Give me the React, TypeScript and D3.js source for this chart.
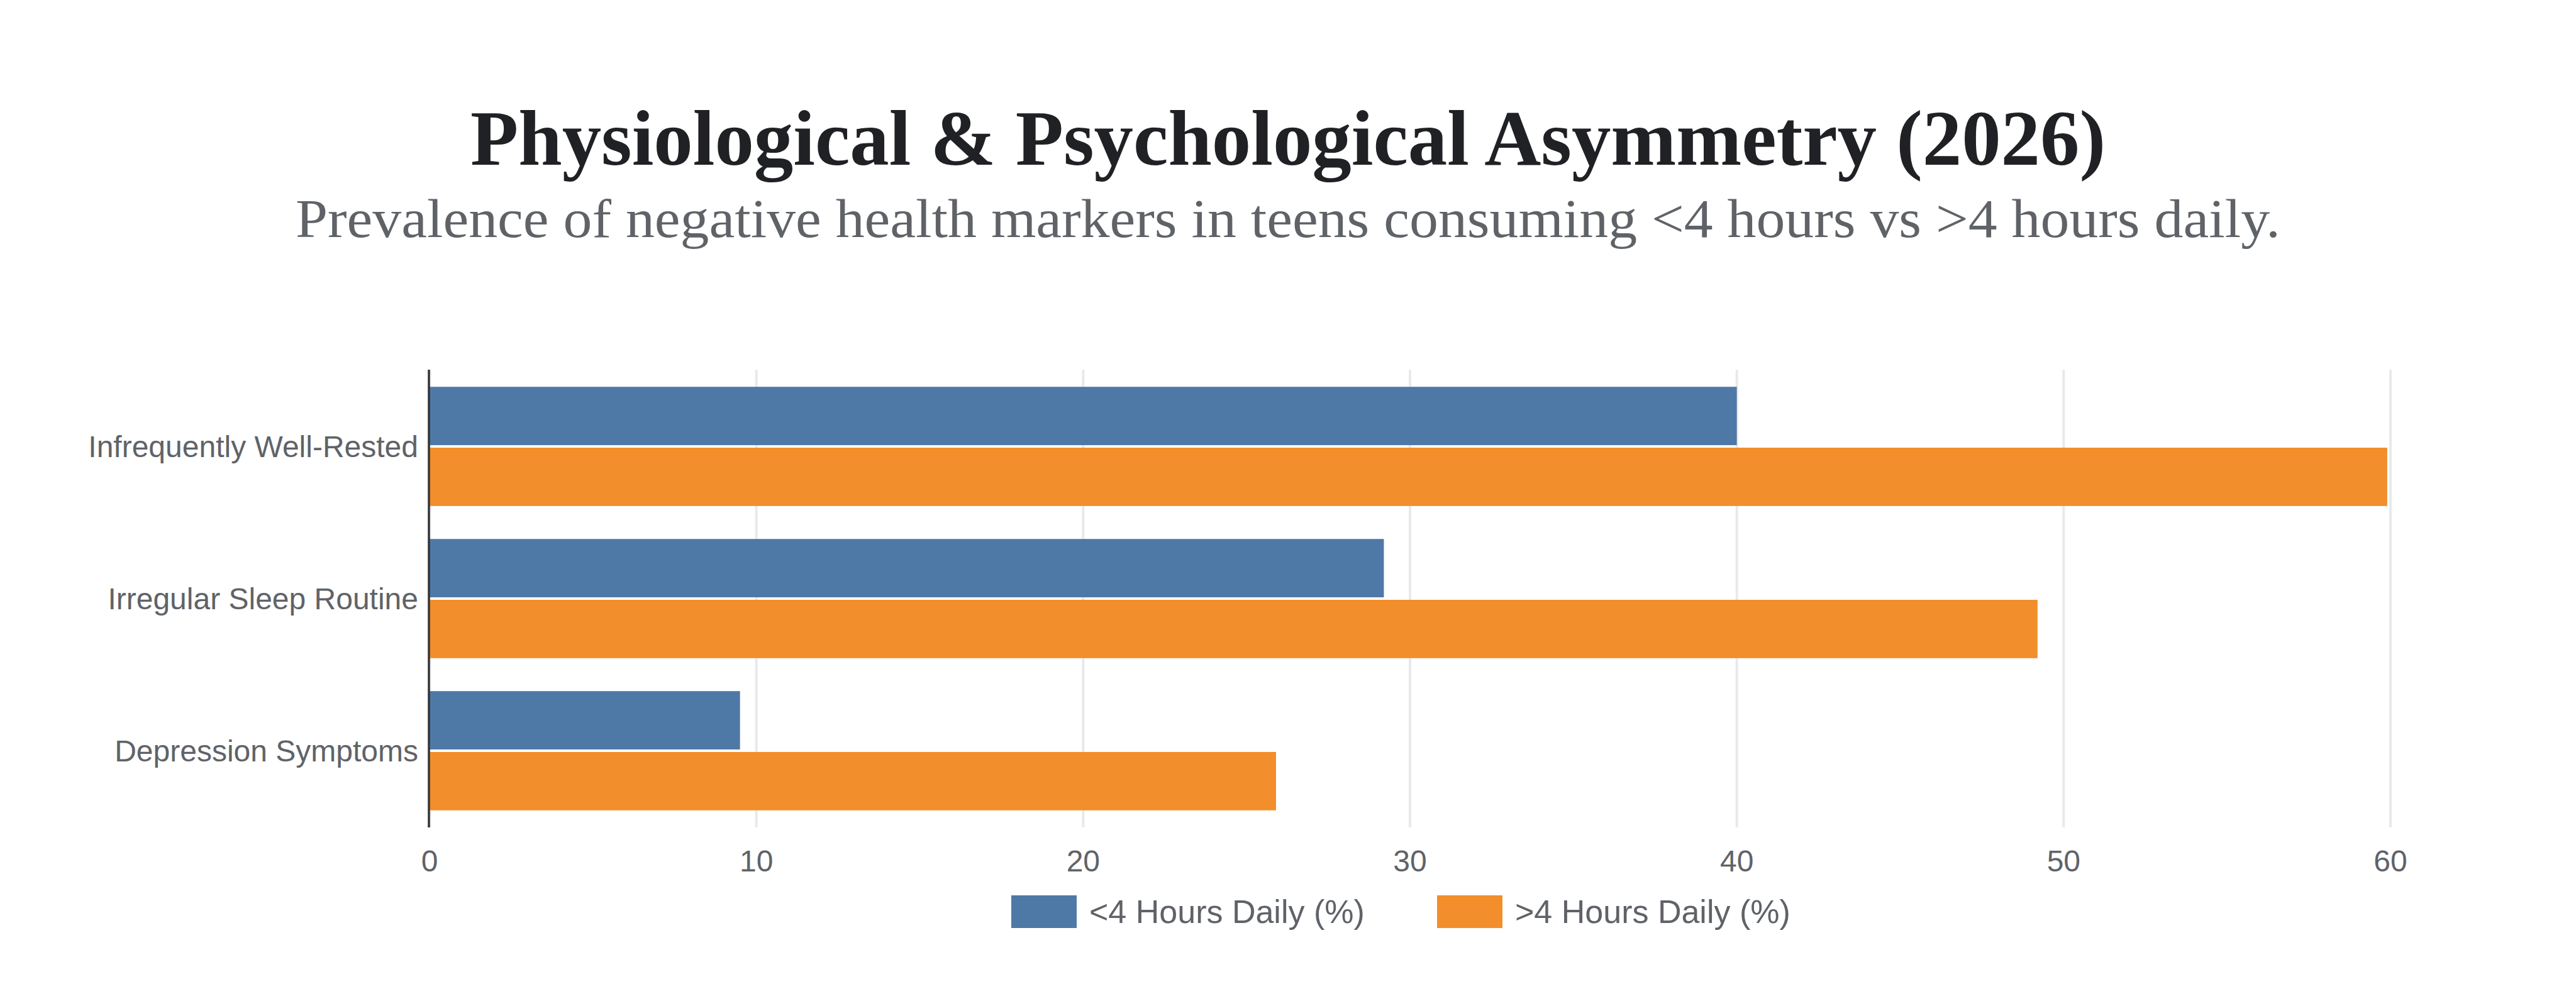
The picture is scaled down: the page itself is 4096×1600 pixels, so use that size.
import * as d3 from 'd3'

const categories = ['Infrequently Well-Rested', 'Irregular Sleep Routine', 'Depression Symptoms']
const seriesNames = ['<4 Hours Daily (%)', '>4 Hours Daily (%)']
const under4Hours = [40, 29.2, 9.5]
const over4Hours = [59.9, 49.2, 25.9]
const xTicks = [0, 10, 20, 30, 40, 50, 60]
const seriesColors = ['#4e79a7', '#f28e2b']

const W = 4096
const H = 1600
const plot = { left: 683, right: 3801, top: 589, bottom: 1315 }
const sans = '"Liberation Sans", Arial, Helvetica, sans-serif'
const serif = '"Liberation Serif", "Times New Roman", serif'

export default function App() {
  const x = d3.scaleLinear().domain([0, 60]).range([plot.left, plot.right])
  const y = d3
    .scaleBand<string>()
    .domain(categories)
    .range([plot.top, plot.bottom])
    .paddingInner(0.2)
    .paddingOuter(0.1)
  const inner = d3.scaleBand<string>().domain(seriesNames).range([0, y.bandwidth()])

  const series = [under4Hours, over4Hours]

  return (
    <svg
      width={W}
      height={H}
      viewBox={`0 0 ${W} ${H}`}
      style={{ position: 'absolute', left: 0, top: 0, background: '#fff' }}
    >
      <rect width={W} height={H} fill="#fff" />

      <text
        x={W / 2}
        y={262}
        textAnchor="middle"
        fontFamily={serif}
        fontWeight="bold"
        fontSize={124}
        fill="#202124"
        textLength={2600}
        lengthAdjust="spacingAndGlyphs"
      >
        Physiological &amp; Psychological Asymmetry (2026)
      </text>
      <text
        x={W / 2}
        y={377}
        textAnchor="middle"
        fontFamily={serif}
        fontSize={86}
        fill="#5f6368"
        textLength={3156}
        lengthAdjust="spacingAndGlyphs"
      >
        Prevalence of negative health markers in teens consuming &lt;4 hours vs &gt;4 hours daily.
      </text>

      {/* vertical grid */}
      {xTicks.map((t) => (
        <line
          key={'g' + t}
          x1={x(t)}
          x2={x(t)}
          y1={plot.top - 1}
          y2={plot.bottom + 1}
          stroke="#e8e9ed"
          strokeWidth={4}
        />
      ))}

      {/* bars */}
      {categories.map((c, i) =>
        seriesNames.map((s, j) => (
          <rect
            key={c + s}
            x={x(0)}
            y={(y(c) ?? 0) + (inner(s) ?? 0) + 2}
            width={x(series[j][i]) - x(0)}
            height={inner.bandwidth() - 4}
            fill={seriesColors[j]}
          />
        ))
      )}

      {/* y axis line */}
      <line x1={682} x2={682} y1={plot.top - 1} y2={plot.bottom + 1} stroke="#333" strokeWidth={3.5} />

      {/* category labels */}
      {categories.map((c) => (
        <text
          key={'l' + c}
          x={665}
          y={(y(c) ?? 0) + y.bandwidth() / 2 + 17}
          textAnchor="end"
          fontFamily={sans}
          fontSize={48}
          fill="#5f6368"
        >
          {c}
        </text>
      ))}

      {/* x tick labels */}
      {xTicks.map((t) => (
        <text
          key={'t' + t}
          x={x(t)}
          y={1386}
          textAnchor="middle"
          fontFamily={sans}
          fontSize={48}
          fill="#5f6368"
        >
          {t}
        </text>
      ))}

      {/* legend */}
      {seriesNames.map((s, j) => (
        <g key={'lg' + s} transform={`translate(${1608 + j * 677},1424)`}>
          <rect width={104} height={52} fill={seriesColors[j]} />
          <text x={124} y={44} fontFamily={sans} fontSize={52} fill="#5f6368">
            {s}
          </text>
        </g>
      ))}
    </svg>
  )
}
